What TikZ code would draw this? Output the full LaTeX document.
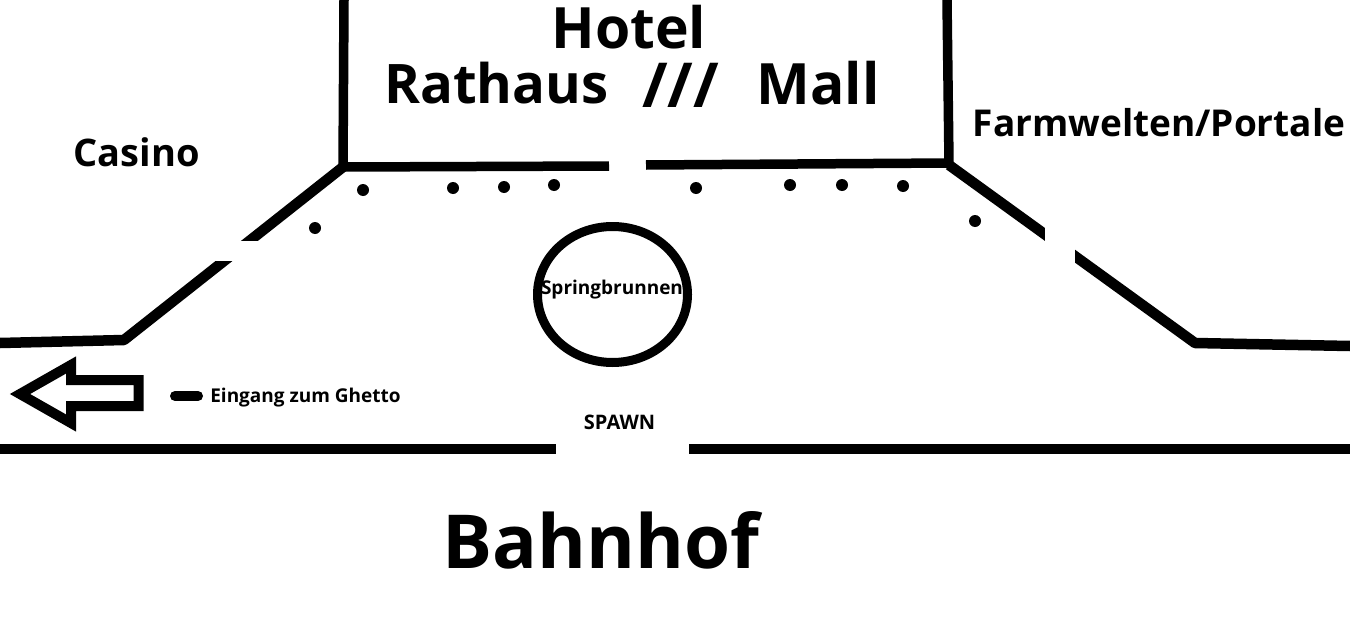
\documentclass[tikz,border=0pt]{standalone}
\usepackage{fontspec}
\setmainfont{Open Sans}
\usetikzlibrary{shapes.geometric}
\newcommand{\lbl}[1]{\fontsize{#1}{#1}\selectfont\bfseries}
\tikzset{
  wall/.style={line width=9.5pt,line cap=butt,line join=round,draw=black},
  slant/.style={wall,line width=10.5pt},
  flat/.style={line width=10pt,line cap=butt,draw=black},
  dot/.style={circle,fill=black,inner sep=0pt,minimum size=12pt},
  gap/.style={fill=white,draw=none},
  lab/.style={inner sep=0pt,text=black,anchor=center}
}
\begin{document}
\begin{tikzpicture}[x=1pt,y=-1pt]
\useasboundingbox (0,0) rectangle (1350,629);
% walls
\draw[slant] (343,167) -- (124,340) -- (0,343);
\draw[slant] (949,165) -- (1195,343) -- (1350,346);
\draw[wall] (344,0) -- (343,167) -- (609,166);
\draw[wall] (646,165) -- (949,163) -- (947,0);
\fill[gap] (205,241) rectangle (262,261);
\fill[gap] (1045,220) rectangle (1075,275);
\draw[flat] (0,449) -- (556,449);
\draw[flat] (689,449) -- (1350,449);
% dots
\foreach \n/\x/\y in {d1/363/190,d2/453/188,d3/504/187,d4/554/185,d5/696/188,d6/790/185,d7/842/185,d8/903/186,d9/975/221,d10/315/228}
  \node[dot] (\n) at (\x,\y) {};
% fountain
\node[ellipse,draw=black,line width=9pt,minimum width=150pt,minimum height=136pt,inner sep=0pt] (fountain) at (612.5,294.5) {};
% arrow
\draw[black,line width=10pt,line join=miter,miter limit=10] (138.5,380) -- (71,380) -- (71,365) -- (20,394) -- (71,423) -- (71,406) -- (138.5,406) -- cycle;
% legend bar
\draw[black,line width=10pt,line cap=round] (175,396) -- (198,396);
% labels
\node[lab] (hotel) at (629,27) {\lbl{57}Hotel};
\node[lab] (rathaus) at (496.5,83) {\lbl{54.5}Rathaus};
\node[lab] (slashes) at (680.5,85) {\lbl{62}///};
\node[lab] (mall) at (818,83) {\lbl{57}Mall};
\node[lab] (casino) at (136.5,152) {\lbl{38}Casino};
\node[lab] (farm) at (1159,123) {\lbl{37}Farmwelten/Portale};
\node[lab] (spring) at (612,290) {\lbl{19}Springbrunnen};
\node[lab] (ghetto) at (305.5,398) {\lbl{19}Eingang zum Ghetto};
\node[lab] (spawn) at (619.5,422) {\lbl{20}SPAWN};
\node[lab] (bahnhof) at (601,540) {\lbl{74.5}Bahnhof};
\end{tikzpicture}
\end{document}
